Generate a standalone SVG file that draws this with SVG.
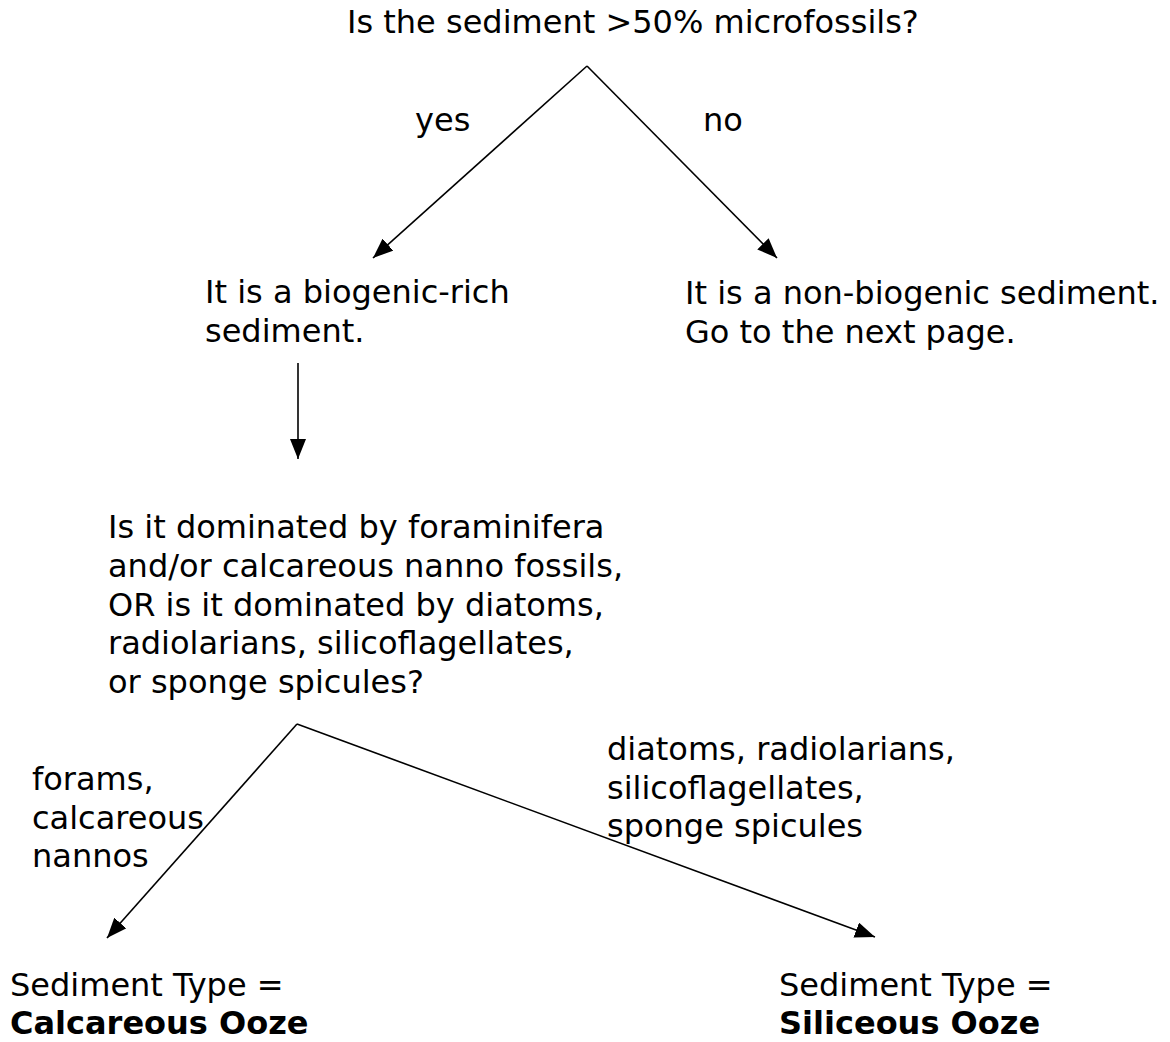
<svg xmlns="http://www.w3.org/2000/svg" width="1170" height="1042" viewBox="0 0 1170 1042">
  <style>
    text { font-family: "DejaVu Sans", Verdana, sans-serif; font-size: 32px; fill: #000; }
    .b { font-weight: bold; }
    .conn { stroke: #000; stroke-width: 1.6; fill: none; marker-end: url(#arrow); }
  </style>
  <defs>
    <marker id="arrow" markerUnits="userSpaceOnUse" markerWidth="20" markerHeight="16" refX="20" refY="8" orient="auto">
      <path d="M0,0 L20,8 L0,16 z" fill="#000"/>
    </marker>
  </defs>
  <rect width="1170" height="1042" fill="#fff"/>

  <g id="connectors">
    <line class="conn" x1="587" y1="66" x2="373" y2="258"/>
    <line class="conn" x1="587" y1="66" x2="777" y2="258"/>
    <line class="conn" x1="298" y1="363" x2="298" y2="459"/>
    <line class="conn" x1="297" y1="724" x2="107" y2="938"/>
    <line class="conn" x1="297" y1="724" x2="875" y2="937"/>
  </g>

  <g id="labels">
    <text x="415" y="131">yes</text>
    <text x="703" y="131">no</text>
    <text x="32" y="790">forams,</text>
    <text x="32" y="829">calcareous</text>
    <text x="32" y="867">nannos</text>
    <text x="607" y="760">diatoms, radiolarians,</text>
    <text x="607" y="799">silicoflagellates,</text>
    <text x="607" y="837">sponge spicules</text>
  </g>

  <g id="q1">
    <text x="347" y="33">Is the sediment &gt;50% microfossils?</text>
  </g>
  <g id="biogenic">
    <text x="205" y="303">It is a biogenic-rich</text>
    <text x="205" y="342">sediment.</text>
  </g>
  <g id="nonbiogenic">
    <text x="685" y="304">It is a non-biogenic sediment.</text>
    <text x="685" y="343">Go to the next page.</text>
  </g>
  <g id="q2">
    <text x="108" y="538">Is it dominated by foraminifera</text>
    <text x="108" y="577">and/or calcareous nanno fossils,</text>
    <text x="108" y="616">OR is it dominated by diatoms,</text>
    <text x="108" y="654">radiolarians, silicoflagellates,</text>
    <text x="108" y="693">or sponge spicules?</text>
  </g>
  <g id="calcareous">
    <text x="10" y="996">Sediment Type =</text>
    <text x="10" y="1034" class="b">Calcareous Ooze</text>
  </g>
  <g id="siliceous">
    <text x="779" y="996">Sediment Type =</text>
    <text x="779" y="1034" class="b">Siliceous Ooze</text>
  </g>
</svg>
